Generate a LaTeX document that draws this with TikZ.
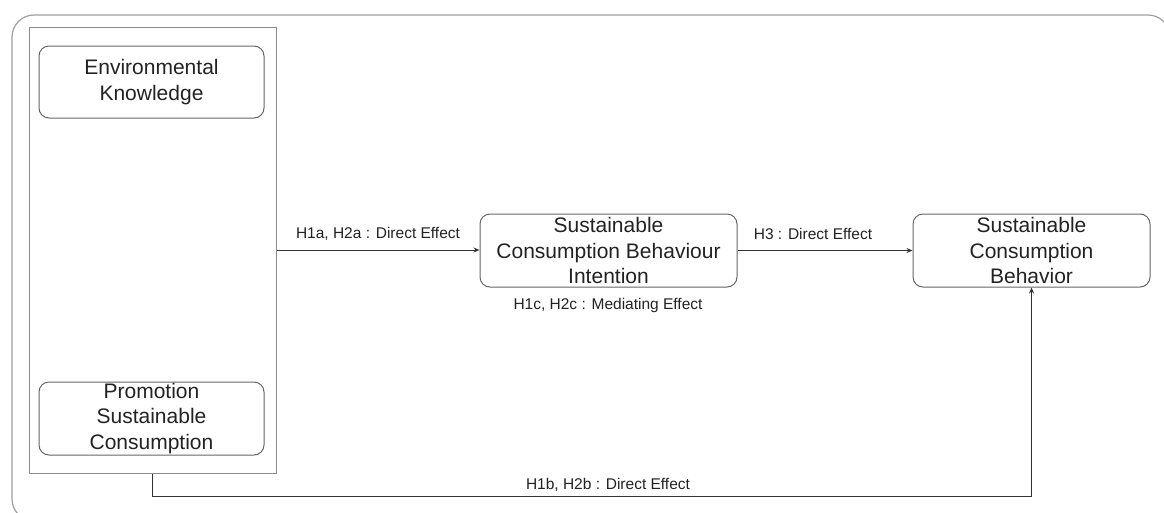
\documentclass[tikz,border=0pt]{standalone}
\usepackage{fontspec}
\setmainfont{Liberation Sans}
\usetikzlibrary{arrows.meta}
\definecolor{boxgray}{HTML}{666666}
\definecolor{framegray}{HTML}{8A8A8A}
\definecolor{outergray}{HTML}{A0A0A0}
\definecolor{lnc}{HTML}{333333}
\definecolor{txt}{HTML}{222222}
\begin{document}
\begin{tikzpicture}[x=1pt,y=-1pt,
  box/.style={draw=boxgray, rounded corners=10pt, line width=1pt, align=center, inner sep=0pt,
    font=\fontsize{21}{25.5}\selectfont, text=txt},
  lab/.style={font=\fontsize{15.5}{18}\selectfont, text=txt, inner sep=1pt},
  conn/.style={draw=lnc, line width=1pt, -{Stealth[length=6pt,width=5pt]}}]
\useasboundingbox (0,0) rectangle (1164,512);
\clip (0,0) rectangle (1164,512);
\node[draw=outergray, line width=1.2pt, rounded corners=22pt, minimum width=1158pt, minimum height=506pt, inner sep=0pt] (frame) at (591,268) {};
\node[draw=framegray, line width=1pt, minimum width=247pt, minimum height=446pt, inner sep=0pt] (grp) at (152.5,250) {};
\node[box, minimum width=225pt, minimum height=72pt] (ek) at (151.5,82) {Environmental\\Knowledge};
\node[box, minimum width=225pt, minimum height=73pt] (psc) at (151.5,418.5) {Promotion\\Sustainable\\Consumption};
\node[box, minimum width=257pt, minimum height=73pt] (scbi) at (608.5,250.5) {Sustainable\\Consumption Behaviour\\Intention};
\node[box, minimum width=237pt, minimum height=73pt] (scb) at (1031.5,250.5) {Sustainable\\Consumption\\Behavior};
\coordinate (turn) at (1031.5,496);
\draw[conn] (grp.east) -- (grp.east -| scbi.west);
\draw[conn] (scbi.east) -- (scb.west);
\draw[conn] (grp.south) |- (turn) -- (scb.south);
\node[lab] (l1) at (378,234) {H1a, H2a : Direct Effect};
\node[lab] (l2) at (608,305) {H1c, H2c : Mediating Effect};
\node[lab] (l3) at (813,234) {H3 : Direct Effect};
\node[lab] (l4) at (608,485) {H1b, H2b : Direct Effect};
\end{tikzpicture}
\end{document}
